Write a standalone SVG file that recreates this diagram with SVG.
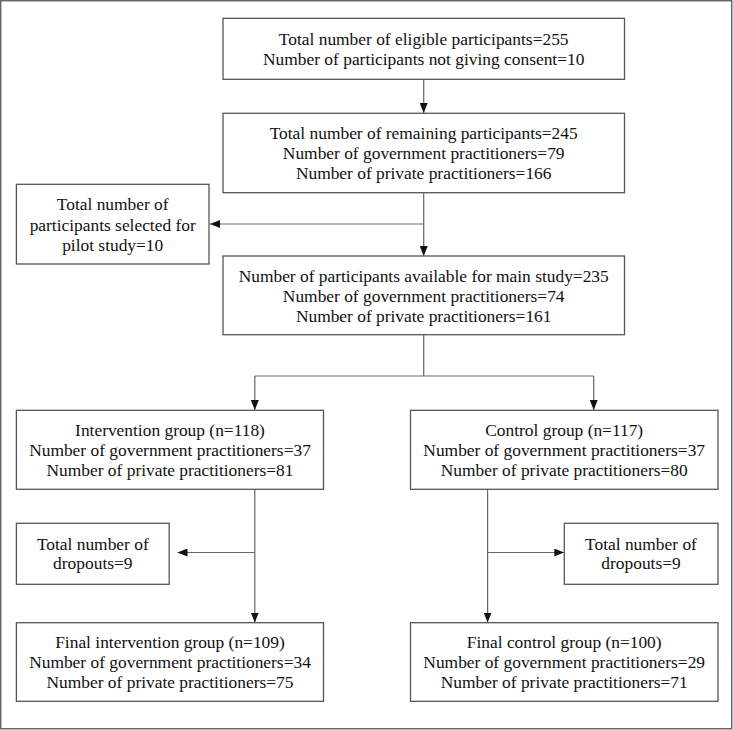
<svg xmlns="http://www.w3.org/2000/svg" width="733" height="730" viewBox="0 0 733 730">
<style>
.box{fill:#fff;stroke:#555;stroke-width:1.3}
.t{font-family:"Liberation Serif","Times New Roman",serif;font-size:17.4px;fill:#111;text-anchor:middle}
.c{fill:none;stroke:#666;stroke-width:1.2}
</style>
<defs>
<marker id="ah" markerWidth="10" markerHeight="8" refX="10" refY="4" orient="auto" markerUnits="userSpaceOnUse">
<path d="M0,0 L10,4 L0,8 Z" fill="#111"/>
</marker>
</defs>
<rect x="0.75" y="0.75" width="731" height="728" fill="#fff" stroke="#555" stroke-width="1.3"/>
<g id="connectors">
<line class="c" x1="423.7" y1="79.3" x2="423.7" y2="113" marker-end="url(#ah)"/>
<line class="c" x1="423.7" y1="192.7" x2="423.7" y2="256" marker-end="url(#ah)"/>
<line class="c" x1="423.7" y1="224" x2="210" y2="224" marker-end="url(#ah)"/>
<polyline class="c" points="423.7,334.7 423.7,376"/>
<polyline class="c" points="254.8,376 593.7,376"/>
<line class="c" x1="254.8" y1="376" x2="254.8" y2="410" marker-end="url(#ah)"/>
<line class="c" x1="593.7" y1="376" x2="593.7" y2="410" marker-end="url(#ah)"/>
<line class="c" x1="254.8" y1="489.3" x2="254.8" y2="622.5" marker-end="url(#ah)"/>
<line class="c" x1="254.8" y1="552.5" x2="177.5" y2="552.5" marker-end="url(#ah)"/>
<line class="c" x1="487.6" y1="489.3" x2="487.6" y2="622.5" marker-end="url(#ah)"/>
<line class="c" x1="487.6" y1="552.5" x2="564.3" y2="552.5" marker-end="url(#ah)"/>
</g>
<g id="n1">
<rect class="box" x="223" y="18.3" width="401.5" height="61"/>
<text class="t" x="423.7" y="45">Total number of eligible participants=255</text>
<text class="t" x="423.7" y="65">Number of participants not giving consent=10</text>
</g>
<g id="n2">
<rect class="box" x="223" y="113.3" width="401.5" height="79.4"/>
<text class="t" x="423.7" y="139.3">Total number of remaining participants=245</text>
<text class="t" x="423.7" y="159.3">Number of government practitioners=79</text>
<text class="t" x="423.7" y="179">Number of private practitioners=166</text>
</g>
<g id="pilot">
<rect class="box" x="16.4" y="184.3" width="192.6" height="79.7"/>
<text class="t" x="112.7" y="210">Total number of</text>
<text class="t" x="112.7" y="230.7">participants selected for</text>
<text class="t" x="112.7" y="250.7">pilot study=10</text>
</g>
<g id="n3">
<rect class="box" x="223" y="256" width="401.5" height="78.7"/>
<text class="t" x="423.7" y="282">Number of participants available for main study=235</text>
<text class="t" x="423.7" y="302">Number of government practitioners=74</text>
<text class="t" x="423.7" y="321.7">Number of private practitioners=161</text>
</g>
<g id="intervention">
<rect class="box" x="16.4" y="410.3" width="307.1" height="79"/>
<text class="t" x="170" y="436">Intervention group (n=118)</text>
<text class="t" x="170" y="456">Number of government practitioners=37</text>
<text class="t" x="170" y="475.7">Number of private practitioners=81</text>
</g>
<g id="control">
<rect class="box" x="410.5" y="410.3" width="307.5" height="79"/>
<text class="t" x="564.2" y="436">Control group (n=117)</text>
<text class="t" x="564.2" y="456">Number of government practitioners=37</text>
<text class="t" x="564.2" y="475.7">Number of private practitioners=80</text>
</g>
<g id="dropL">
<rect class="box" x="16.4" y="523.3" width="152.8" height="61"/>
<text class="t" x="92.8" y="550">Total number of</text>
<text class="t" x="92.8" y="569.3">dropouts=9</text>
</g>
<g id="dropR">
<rect class="box" x="564.3" y="523.3" width="153.7" height="61"/>
<text class="t" x="641" y="550">Total number of</text>
<text class="t" x="641" y="569.3">dropouts=9</text>
</g>
<g id="finalI">
<rect class="box" x="16.4" y="622.7" width="307.1" height="78.6"/>
<text class="t" x="170" y="648.3">Final intervention group (n=109)</text>
<text class="t" x="170" y="668.3">Number of government practitioners=34</text>
<text class="t" x="170" y="688">Number of private practitioners=75</text>
</g>
<g id="finalC">
<rect class="box" x="410.5" y="622.7" width="307.5" height="78.6"/>
<text class="t" x="564.2" y="648.3">Final control group (n=100)</text>
<text class="t" x="564.2" y="668.3">Number of government practitioners=29</text>
<text class="t" x="564.2" y="688">Number of private practitioners=71</text>
</g>
</svg>
